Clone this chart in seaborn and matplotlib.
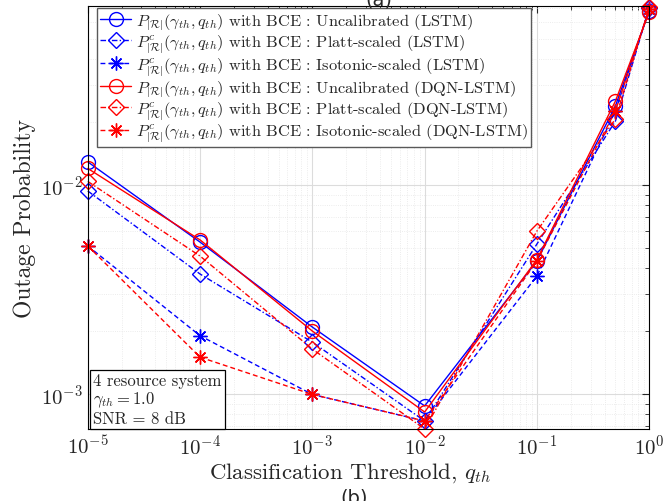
import numpy as np
import pandas as pd
import matplotlib
matplotlib.use("Agg")
import matplotlib.pyplot as plt
import seaborn as sns

# ---------------------------------------------------------------------------
# DATA
# ---------------------------------------------------------------------------
q_th = [1e-5, 1e-4, 1e-3, 1e-2, 1e-1, 0.5, 1.0]

lstm_uncal = [0.0129, 0.00533, 0.00209, 0.000877, 0.00433, 0.0239, 0.0680]
lstm_platt = [0.00936, 0.00375, 0.00177, 0.000743, 0.00522, 0.0202, 0.0705]
lstm_iso = [0.00511, 0.00190, 0.000995, 0.000743, 0.00367, 0.0226, 0.0695]
dqn_uncal = [0.0120, 0.00546, 0.00200, 0.000820, 0.00440, 0.0252, 0.0673]
dqn_platt = [0.0104, 0.00457, 0.00164, 0.000680, 0.00602, 0.0207, 0.0710]
dqn_iso = [0.00511, 0.00150, 0.000995, 0.000743, 0.00433, 0.0226, 0.0695]

labels = [
    r"$P_{|\mathcal{R}|}(\gamma_{th}, q_{th})$ with BCE : Uncalibrated (LSTM)",
    r"$P^c_{|\mathcal{R}|}(\gamma_{th}, q_{th})$ with BCE : Platt-scaled (LSTM)",
    r"$P^c_{|\mathcal{R}|}(\gamma_{th}, q_{th})$ with BCE : Isotonic-scaled (LSTM)",
    r"$P_{|\mathcal{R}|}(\gamma_{th}, q_{th})$ with BCE : Uncalibrated (DQN-LSTM)",
    r"$P^c_{|\mathcal{R}|}(\gamma_{th}, q_{th})$ with BCE : Platt-scaled (DQN-LSTM)",
    r"$P^c_{|\mathcal{R}|}(\gamma_{th}, q_{th})$ with BCE : Isotonic-scaled (DQN-LSTM)",
]
series = [lstm_uncal, lstm_platt, lstm_iso, dqn_uncal, dqn_platt, dqn_iso]

# ---------------------------------------------------------------------------
# STYLE
# ---------------------------------------------------------------------------
sns.set_style("white")
plt.rcParams['font.family'] = ['serif']
plt.rcParams['font.serif'] = ['cmr10', 'DejaVu Serif']
plt.rcParams['mathtext.fontset'] = 'cm'
plt.rcParams['axes.formatter.use_mathtext'] = True
plt.rcParams['axes.unicode_minus'] = False

colors = ['#0000FF', '#0000FF', '#0000FF', '#FF0000', '#FF0000', '#FF0000']
markers = ['o', 'D', (8, 2, 0), 'o', 'D', (8, 2, 0)]
msizes = [10, 8, 10, 10, 8, 10]
# MATLAB-like line styles: solid, dash-dot, dashed
dash_styles = [None, (4, 1.6, 1, 1.6), (3.5, 2.2), None, (4, 1.6, 1, 1.6), (3.5, 2.2)]

fig = plt.figure(figsize=(6.7, 5.02), dpi=100)
ax = fig.add_axes([0.131, 0.1434, 0.838, 0.8426])

for vals, lab, c, m, ms, ds in zip(series, labels, colors, markers, msizes, dash_styles):
    df = pd.DataFrame({'q': q_th, 'p': vals})
    kw = dict(linestyle='-') if ds is None else dict(dashes=ds)
    sns.lineplot(data=df, x='q', y='p', ax=ax, color=c, marker=m, markersize=ms,
                 linewidth=1.0, markerfacecolor='none',
                 markeredgecolor=c, markeredgewidth=1.0, label=lab, clip_on=False, **kw)

ax.set_xscale('log')
ax.set_yscale('log')
ax.set_xlim(1e-5, 1.0)
ax.set_ylim(6.8e-4, 7.18e-2)

ax.grid(True, which='major', color='#dcdcdc', linewidth=0.8, linestyle='-')
ax.grid(True, which='minor', color='#e6e6e6', linewidth=0.6, linestyle=':')
ax.set_axisbelow(True)

ax.tick_params(which='both', direction='in', top=True, right=True, labelsize=15)
ax.tick_params(which='major', length=5, width=0.8)
ax.tick_params(which='minor', length=3, width=0.6)
ax.xaxis.set_major_locator(matplotlib.ticker.LogLocator(base=10, numticks=10))
ax.xaxis.set_minor_locator(matplotlib.ticker.LogLocator(base=10, subs=np.arange(2, 10), numticks=20))
ax.yaxis.set_minor_locator(matplotlib.ticker.LogLocator(base=10, subs=np.arange(2, 10), numticks=20))
ax.yaxis.set_minor_formatter(matplotlib.ticker.NullFormatter())
for sp in ax.spines.values():
    sp.set_color('black')
    sp.set_linewidth(0.8)

ax.set_xlabel(r"Classification Threshold, $q_{th}$", fontsize=16.5, labelpad=2)
ax.xaxis.set_label_coords(0.468, -0.075)
ax.set_ylabel("Outage Probability", fontsize=17, labelpad=4)

leg = ax.legend(loc='upper left', bbox_to_anchor=(0.016, 0.995), fontsize=11.8,
                frameon=True, fancybox=False, edgecolor='0.35', framealpha=1,
                borderpad=0.2, labelspacing=0.08, handlelength=1.9, handletextpad=0.3,
                borderaxespad=0.0)
leg.get_frame().set_linewidth(1.0)

ax.text(0.01, 0.008, "4 resource system\n" + r"$\gamma_{th} = 1.0$" + "\nSNR = 8 dB",
        transform=ax.transAxes, fontsize=12, va='bottom', ha='left', linespacing=1.1,
        bbox=dict(boxstyle='square,pad=0.2', facecolor='white', edgecolor='black', linewidth=0.9))

# cropped sub-figure captions (cut by the image edges as in the original)
fig.text(0.565, 0.99, "(a)", fontsize=14, family='DejaVu Sans', ha='center', va='baseline')
fig.text(0.528, 0.026, "(b)", fontsize=14, family='DejaVu Sans', ha='center', va='top')

plt.savefig("out.png", dpi=100)
plt.close()
